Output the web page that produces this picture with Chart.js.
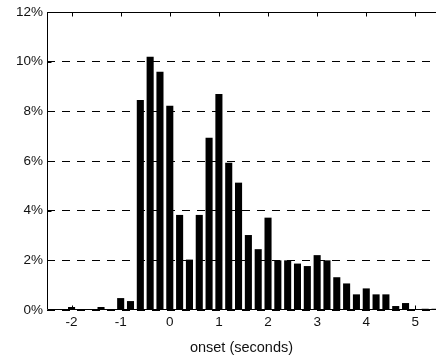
<!DOCTYPE html>
<html>
<head>
<meta charset="utf-8">
<script src="https://cdn.jsdelivr.net/npm/chart.js@4.4.1/dist/chart.umd.min.js"></script>
<style>
  html, body { margin: 0; padding: 0; background: #fff; overflow: hidden; }
  #wrap { width: 436px; height: 358px; }
</style>
</head>
<body>
<div id="wrap"><canvas id="c" width="436" height="358"></canvas></div>
<script>
// Bin centres (onset, seconds)
const bins = [-2.4, -2.2, -2.0, -1.8, -1.6, -1.4, -1.2, -1.0, -0.8, -0.6,
              -0.4, -0.2, 0.0, 0.2, 0.4, 0.6, 0.8, 1.0, 1.2, 1.4,
               1.6, 1.8, 2.0, 2.2, 2.4, 2.6, 2.8, 3.0, 3.2, 3.4,
               3.6, 3.8, 4.0, 4.2, 4.4, 4.6, 4.8, 5.0, 5.2, 5.4];
// Percentage of onsets in each bin
const percents = [0, 0, 0.12, 0, 0.03, 0.12, 0.03, 0.48, 0.36, 8.46,
                  10.2, 9.6, 8.23, 3.83, 2.03, 3.83, 6.94, 8.7, 5.93, 5.13,
                  3.02, 2.45, 3.72, 2.0, 2.0, 1.87, 1.77, 2.21, 2.0, 1.32,
                  1.07, 0.63, 0.87, 0.63, 0.63, 0.16, 0.28, 0.04, 0.05, 0.05];
const xTickValues = [-2, -1, 0, 1, 2, 3, 4, 5];
const yTickValues = [0, 2, 4, 6, 8, 10, 12];
const xTitle = 'onset (seconds)';

const points = bins.map((b, i) => ({ x: b, y: percents[i] }));

const framePlugin = {
  id: 'frame',
  afterDatasetsDraw(chart) {
    const { ctx, chartArea: a, scales } = chart;
    ctx.save();
    ctx.strokeStyle = '#000';
    ctx.lineWidth = 1;
    ctx.setLineDash([]);
    const L = Math.round(a.left) + 0.5, R = a.right;
    const T = Math.round(a.top) + 0.5, B = Math.round(a.bottom) - 0.5;
    ctx.beginPath();
    ctx.moveTo(R, T); ctx.lineTo(L, T); ctx.lineTo(L, B); ctx.lineTo(R, B);
    ctx.stroke();
    const tl = 4;
    ctx.beginPath();
    xTickValues.forEach(v => {
      const px = Math.round(scales.x.getPixelForValue(v)) + 0.5;
      ctx.moveTo(px, B); ctx.lineTo(px, B - tl);
      ctx.moveTo(px, T); ctx.lineTo(px, T + tl);
    });
    yTickValues.forEach(v => {
      const py = Math.round(scales.y.getPixelForValue(v)) + 0.5;
      ctx.moveTo(L, py); ctx.lineTo(L + tl, py);
    });
    ctx.stroke();
    ctx.restore();
  }
};

new Chart(document.getElementById('c'), {
  type: 'bar',
  data: {
    datasets: [{
      data: points,
      backgroundColor: '#000',
      borderWidth: 0,
      barPercentage: 0.72,
      categoryPercentage: 1.0
    }]
  },
  options: {
    responsive: false,
    animation: false,
    layout: { padding: { top: 12, left: 16, right: 0, bottom: 1 } },
    plugins: { legend: { display: false }, tooltip: { enabled: false } },
    scales: {
      x: {
        type: 'linear',
        offset: false,
        min: -2.5,
        max: 5.42,
        afterBuildTicks: axis => { axis.ticks = xTickValues.map(v => ({ value: v })); },
        afterFit: axis => { axis.height = 47; },
        grid: { display: false, drawTicks: false, offset: false },
        border: { display: false },
        ticks: {
          padding: 4,
          color: '#111',
          font: { family: 'Liberation Sans, Arial, sans-serif', size: 13.5 },
          callback: v => String(v),
          maxRotation: 0,
          autoSkip: false
        },
        title: {
          display: true,
          text: xTitle,
          color: '#111',
          font: { family: 'Liberation Sans, Arial, sans-serif', size: 14.5 },
          padding: { top: 8, bottom: 0 }
        }
      },
      y: {
        min: 0,
        max: 12,
        afterBuildTicks: axis => { axis.ticks = yTickValues.map(v => ({ value: v })); },
        afterFit: axis => { axis.width = 31; },
        grid: { color: '#000', lineWidth: 1, drawTicks: false },
        border: { display: false, dash: [8, 7] },
        ticks: {
          padding: 4,
          color: '#111',
          font: { family: 'Liberation Sans, Arial, sans-serif', size: 13.5 },
          callback: v => v + '%'
        }
      }
    }
  },
  plugins: [framePlugin]
});
</script>
</body>
</html>
